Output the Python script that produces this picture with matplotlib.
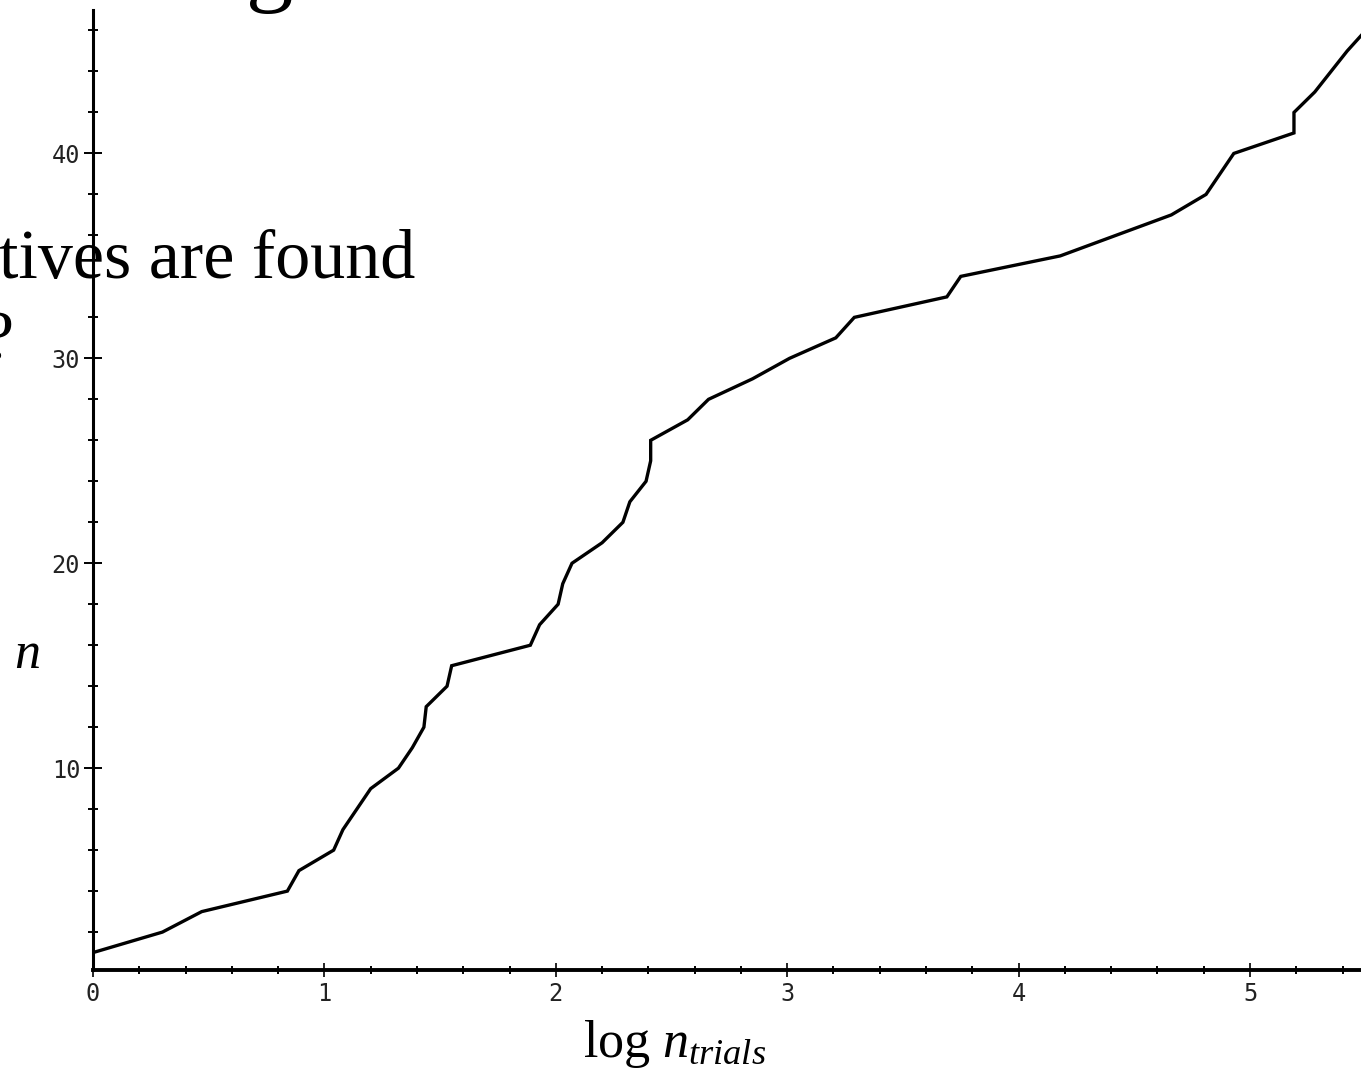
import matplotlib
matplotlib.use('Agg')
import matplotlib.pyplot as plt
from matplotlib.ticker import MultipleLocator

# curve: log10 of number of trials vs. n found
log_trials = [0.00, 0.30, 0.47, 0.84, 0.89, 1.04, 1.08, 1.14, 1.20, 1.32,
              1.38, 1.43, 1.44, 1.53, 1.55, 1.89, 1.93, 2.01, 2.03, 2.07,
              2.20, 2.29, 2.32, 2.39, 2.41, 2.41, 2.57, 2.66, 2.85, 3.01,
              3.21, 3.29, 3.69, 3.75, 4.18, 4.42, 4.66, 4.81, 4.87, 4.93,
              5.19, 5.19, 5.28, 5.35, 5.42, 5.50]
n_found = [1, 2, 3, 4, 5, 6, 7, 8, 9, 10,
           11, 12, 13, 14, 15, 16, 17, 18, 19, 20,
           21, 22, 23, 24, 25, 26, 27, 28, 29, 30,
           31, 32, 33, 34, 35, 36, 37, 38, 39, 40,
           41, 42, 43, 44, 45, 46]

x_major = [0, 1, 2, 3, 4, 5]
y_major = [10, 20, 30, 40]

W, H = 1361, 1069
plt.rcParams['mathtext.fontset'] = 'custom'
plt.rcParams['mathtext.rm'] = 'Liberation Serif'
plt.rcParams['mathtext.it'] = 'Liberation Serif:italic'

fig = plt.figure(figsize=(W / 100, H / 100), dpi=100)
ax = fig.add_axes([93 / W, 1 - 970 / H, 1 - 93 / W, (970 - 10) / H])

ax.plot(log_trials, n_found, color='black', lw=2.4, solid_joinstyle='miter', clip_on=True)

ax.set_xlim(0, (W - 93) / 231.4)
ax.set_ylim(0.15, 47)

for s in ['top', 'right']:
    ax.spines[s].set_visible(False)
ax.spines['left'].set_linewidth(2.2)
ax.spines['bottom'].set_linewidth(2.8)

ax.set_xticks(x_major)
ax.set_yticks(y_major)
ax.xaxis.set_minor_locator(MultipleLocator(0.2))
ax.yaxis.set_minor_locator(MultipleLocator(2))

mono = 'DejaVu Sans Mono'
ax.tick_params(axis='y', which='major', direction='inout', length=13.5, width=1.4, pad=2.5,
               labelsize=17, labelcolor='#222222')
ax.tick_params(axis='y', which='minor', direction='inout', length=7, width=1.4)
ax.tick_params(axis='x', which='major', direction='inout', length=10, width=1.2, pad=3.5,
               labelsize=17, labelcolor='#222222')
ax.tick_params(axis='x', which='minor', direction='inout', length=5.5, width=1.4)
for lab in ax.get_xticklabels() + ax.get_yticklabels():
    lab.set_fontfamily(mono)


def px(x, y):
    return x / W, 1 - y / H


serif = 'Liberation Serif'
# slide text showing around the plot
fig.text(*px(246, -6), 'g', fontsize=68, family=serif, ha='left', va='baseline')
fig.text(*px(-1, 278), 'tives are found', fontsize=50.5, family=serif, ha='left', va='baseline')
fig.text(*px(-18, 360), '?', fontsize=50.5, family=serif, ha='left', va='baseline')
fig.text(*px(14, 668), 'n', fontsize=37.5, family=serif, style='italic', ha='left', va='baseline')
fig.text(*px(583, 1057), r'$\log\,n_{trials}$', fontsize=37.5, ha='left', va='baseline')

fig.savefig('out.png', dpi=100)
